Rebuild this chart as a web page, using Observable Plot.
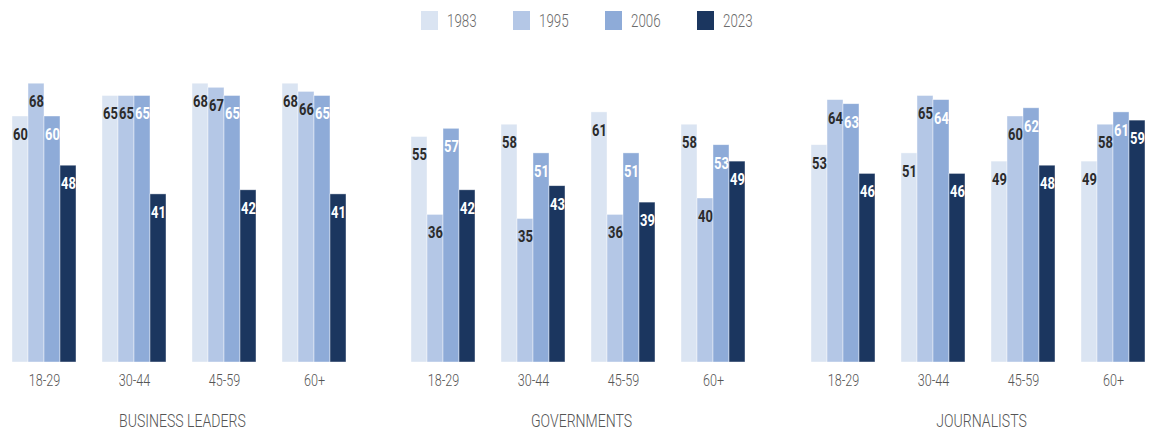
<!DOCTYPE html>
<html><head><meta charset="utf-8">
<script src="https://cdn.jsdelivr.net/npm/d3@7"></script>
<script src="https://cdn.jsdelivr.net/npm/@observablehq/plot@0.6"></script>
<style>
body{margin:0;background:#fff;font-family:Roboto,"DejaVu Sans Condensed",sans-serif;}
#legend{height:40px;display:flex;align-items:center;padding-left:421px;}
.item{display:flex;align-items:center;width:92px;font-size:18px;font-weight:300;color:#6b6b6b;}
.sw{width:17px;height:19px;margin-right:9px;flex:none;}
.item span{display:inline-block;transform:scaleX(0.74);transform-origin:left center;}
#panels{display:flex;}
.panel{position:relative;height:394px;}
.title{position:absolute;left:0;width:364px;top:370px;line-height:22px;text-align:center;font-size:18.5px;font-weight:300;color:#555;}
.title span{display:inline-block;transform:scaleX(0.76);transform-origin:center center;}
</style></head>
<body>
<div id="legend"></div>
<div id="panels"></div>
<script>
const sectors = ["BUSINESS LEADERS", "GOVERNMENTS", "JOURNALISTS"];
const ages = ["18-29", "30-44", "45-59", "60+"];
const years = ["1983", "1995", "2006", "2023"];
// values per age group, in year order
const businessLeaders = [[60, 68, 60, 48], [65, 65, 65, 41], [68, 67, 65, 42], [68, 66, 65, 41]];
const governments     = [[55, 36, 57, 42], [58, 35, 51, 43], [61, 36, 51, 39], [58, 40, 53, 49]];
const journalists     = [[53, 64, 63, 46], [51, 65, 64, 46], [49, 60, 62, 48], [49, 58, 61, 59]];
const seriesColors = ["#dae4f2", "#b4c7e6", "#8eabd8", "#1b365f"];
const darkLabelYears = ["1983", "1995"];

const sectorValues = [businessLeaders, governments, journalists];

// legend
const legend = document.getElementById("legend");
years.forEach((y, i) => {
  const it = document.createElement("div"); it.className = "item";
  const sw = document.createElement("div"); sw.className = "sw"; sw.style.background = seriesColors[i];
  const t = document.createElement("span"); t.textContent = y;
  it.append(sw, t); legend.append(it);
});

const panelWidths = [400, 400, 349];
const panelLefts = [10, 9, 9];
const innerW = 337.6;
const panels = document.getElementById("panels");

function squeezeAll(svg) {
  svg.querySelectorAll("text").forEach(el => {
    const bold = el.closest('[font-weight="bold"]') !== null;
    const k = bold ? 0.76 : 0.74;
    const L = el.getComputedTextLength();
    if (L > 0) {
      el.setAttribute("textLength", (L * k).toFixed(2));
      el.setAttribute("lengthAdjust", "spacingAndGlyphs");
    }
  });
}

sectors.forEach((s, si) => {
  const rows = [];
  ages.forEach((a, ai) => years.forEach((y, yi) => rows.push({sector: s, age: a, year: y, value: sectorValues[si][ai][yi]})));
  const w = panelWidths[si];
  const chart = Plot.plot({
    width: w, height: 394,
    marginLeft: panelLefts[si], marginRight: w - panelLefts[si] - innerW,
    marginTop: 35, marginBottom: 72,
    style: {fontFamily: 'Roboto,"DejaVu Sans Condensed",sans-serif', fontSize: "17px", fontWeight: 300, color: "#555", background: "white"},
    fx: {domain: ages, paddingInner: 0.27, paddingOuter: 0, axis: "bottom", label: null, tickSize: 0, tickPadding: 11},
    x: {domain: years, padding: 0, axis: null},
    y: {domain: [0, 70], axis: null},
    color: {domain: years, range: seriesColors},
    marks: [
      Plot.barY(rows, {fx: "age", x: "year", y: "value", fill: "year", stroke: "white", strokeWidth: 0.7, strokeOpacity: 0.6}),
      Plot.text(rows, {filter: d => darkLabelYears.includes(d.year), fx: "age", x: "year", y: "value", text: d => String(d.value), dy: 18, fill: "#2b2b2b", fontWeight: "bold", fontSize: 17}),
      Plot.text(rows, {filter: d => !darkLabelYears.includes(d.year), fx: "age", x: "year", y: "value", text: d => String(d.value), dy: 18, fill: "white", fontWeight: "bold", fontSize: 17})
    ]
  });
  const p = document.createElement("div"); p.className = "panel"; p.style.width = w + "px";
  const t = document.createElement("div"); t.className = "title";
  const ts = document.createElement("span"); ts.textContent = s; t.append(ts);
  p.append(chart, t); panels.append(p);
  squeezeAll(chart);
});
</script>
</body></html>
